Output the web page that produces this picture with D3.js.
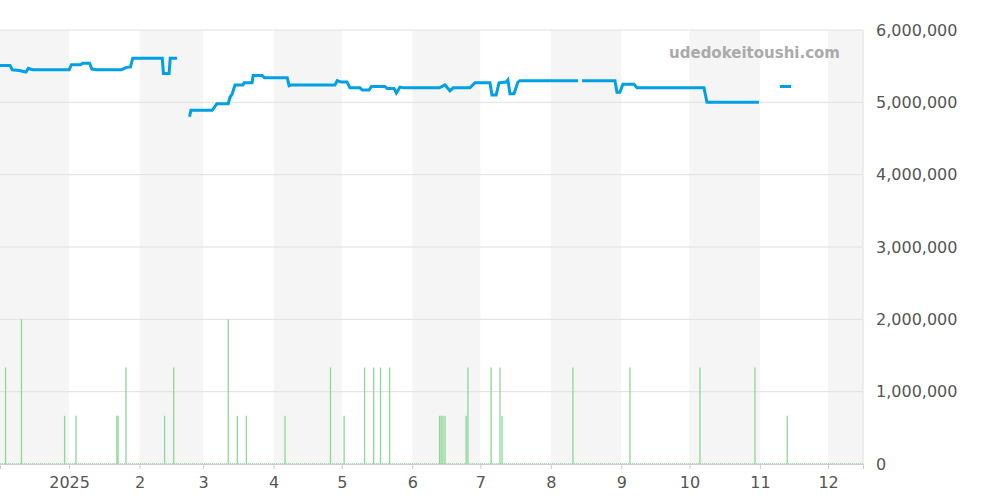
<!DOCTYPE html>
<html><head><meta charset="utf-8">
<script src="https://cdn.jsdelivr.net/npm/d3@7"></script>
<style>body{margin:0;background:#fff}svg text{font-family:"DejaVu Sans",sans-serif}</style>
</head><body><svg id="c" width="1000" height="500"></svg>
<script>
// price series: [days since 2024-12-01, value]; null = gap
const priceDays = [0,5,6,9,12,13,15,31,32,36,37,40,41,43,54,56,58,59,72,72.5,73,75,75.5,78.5,null,
 84,84.6,94,96,101,101.8,102.7,104,107.5,108,111.5,112,116,117,127,127.8,128.7,148,149,150.7,153.3,154.6,159,160,163,164,170,171,174,175,176.6,178.4,194,196.4,198.6,200,207.4,209.6,216.2,217.1,218.9,220.2,223.3,224.1,225,226.8,228.5,229.4,255,null,
 256.7,271.2,272.1,273.4,274.7,279.6,280.9,310.4,311.7,334.6,null,343.8,348.7];
const priceValues = [5.51e6,5.51e6,5.45e6,5.44e6,5.42e6,5.47e6,5.45e6,5.45e6,5.52e6,5.52e6,5.54e6,5.54e6,5.46e6,5.45e6,5.45e6,5.48e6,5.49e6,5.61e6,5.61e6,5.40e6,5.40e6,5.40e6,5.61e6,5.61e6,null,
 4.80e6,4.89e6,4.89e6,4.98e6,4.98e6,5.07e6,5.11e6,5.24e6,5.24e6,5.27e6,5.27e6,5.37e6,5.37e6,5.34e6,5.34e6,5.23e6,5.24e6,5.24e6,5.30e6,5.28e6,5.28e6,5.20e6,5.20e6,5.17e6,5.17e6,5.22e6,5.22e6,5.19e6,5.19e6,5.13e6,5.21e6,5.20e6,5.20e6,5.24e6,5.16e6,5.20e6,5.20e6,5.27e6,5.27e6,5.10e6,5.10e6,5.27e6,5.28e6,5.31e6,5.12e6,5.12e6,5.28e6,5.30e6,5.30e6,null,
 5.30e6,5.30e6,5.14e6,5.14e6,5.25e6,5.25e6,5.20e6,5.20e6,5.00e6,5.00e6,null,5.22e6,5.22e6];
const volDays = [3,10,29,34,52,52.5,56,73,77,101,105,109,126,146,152,161,165,168,172,194,194.7,195.5,196.4,205.7,206.5,216.7,220.6,221.5,252.7,277.8,308.6,332.8,347];
const volValues = [2,3,1,1,1,1,2,1,2,3,1,1,1,2,1,2,2,2,2,1,1,1,1,1,2,2,2,1,2,2,2,2,1];
const yTicks = [0,1e6,2e6,3e6,4e6,5e6,6e6];
const monthLabels = ["2025","2","3","4","5","6","7","8","9","10","11","12"];

const svg = d3.select("#c");
const L=0,R=863,T=30,B=464;
const start = new Date(2024,11,1,14), end = new Date(2025,11,16,9);
const base = new Date(2024,11,1);
const toDate = d => new Date(base.getTime()+d*864e5);
const x = d3.scaleTime().domain([start,end]).range([L,R]);
const y = d3.scaleLinear().domain([0,6e6]).range([B,T]);
const vy = d3.scaleLinear().domain([0,9]).range([B,T]);

const months = d3.timeMonth.range(new Date(2024,11,1), end);
months.forEach((m,i)=>{ if(i%2===0){
  const x0=Math.max(L,x(m)), x1=Math.min(R,x(d3.timeMonth.offset(m,1)));
  svg.append("rect").attr("x",x0).attr("y",T).attr("width",x1-x0).attr("height",B-T).attr("fill","#f5f5f5");
}});
yTicks.forEach(t=>svg.append("line").attr("x1",L).attr("x2",R).attr("y1",y(t)).attr("y2",y(t)).attr("stroke","#e0e0e0"));
svg.append("line").attr("x1",R).attr("x2",R).attr("y1",T).attr("y2",B).attr("stroke","#e0e0e0");
const ya = svg.append("g").attr("transform",`translate(${R},0)`).call(d3.axisRight(y).tickValues(yTicks).tickFormat(d3.format(",")).tickSize(0).tickPadding(13));
ya.select(".domain").remove();
ya.selectAll("text").attr("font-size",16).attr("fill","#555");
const ticks = d3.timeMonth.range(new Date(2025,0,1), end);
const xa = svg.append("g").attr("transform",`translate(0,${B})`).call(d3.axisBottom(x).tickValues(ticks).tickFormat((d,i)=>monthLabels[i]).tickSize(5).tickPadding(8));
xa.select(".domain").attr("stroke","#ccc");
xa.selectAll(".tick line").attr("stroke","#ccc");
xa.selectAll("text").attr("font-size",16).attr("fill","#555");
svg.append("line").attr("x1",L).attr("x2",R).attr("y1",B-0.5).attr("y2",B-0.5).attr("stroke","#a8dcb0").attr("stroke-dasharray","1,1");
svg.selectAll(".v").data(volDays).enter().append("rect")
 .attr("x",(d)=>x(toDate(d))-0.6).attr("width",1.3)
 .attr("y",(d,i)=>vy(volValues[i])).attr("height",(d,i)=>B-vy(volValues[i]))
 .attr("fill","#8ed69a");
const pts = priceDays.map((d,i)=>({d,v:priceValues[i]}));
svg.append("path").datum(pts).attr("fill","none").attr("stroke","#00a0e4").attr("stroke-width",3)
 .attr("d",d3.line().defined(p=>p.d!==null).x(p=>x(toDate(p.d))).y(p=>y(p.v)));
svg.append("text").attr("x",840).attr("y",58).attr("text-anchor","end").attr("font-size",15).attr("font-weight","bold").attr("fill","#aaa").text("udedokeitoushi.com");
</script></body></html>
